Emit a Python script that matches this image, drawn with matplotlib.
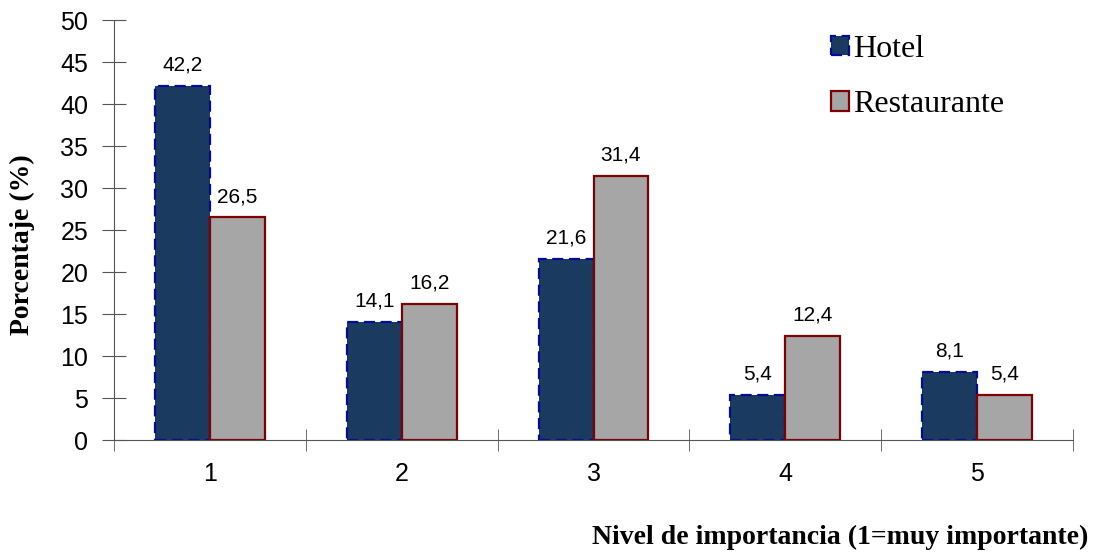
import matplotlib
matplotlib.use("Agg")
import matplotlib.pyplot as plt
import numpy as np

categories = ["1", "2", "3", "4", "5"]
hotel = [42.2, 14.1, 21.6, 5.4, 8.1]
restaurante = [26.5, 16.2, 31.4, 12.4, 5.4]
hotel_labels = ["42,2", "14,1", "21,6", "5,4", "8,1"]
rest_labels = ["26,5", "16,2", "31,4", "12,4", "5,4"]

fig = plt.figure(figsize=(10.95, 5.52), dpi=100)
ax = fig.add_axes([114/1095, 112/552, 959/1095, 420/552])

x = np.arange(len(categories))
w = 0.286
ax.bar(x - w/2, hotel, w, color="#1a3a60", edgecolor="#000c9a",
       linestyle=(0, (5, 2.5)), linewidth=1.6, label="Hotel")
ax.bar(x + w/2, restaurante, w, color="#a6a6a6", edgecolor="#7f0000",
       linewidth=1.6, label="Restaurante")

for i in range(len(categories)):
    ax.annotate(hotel_labels[i], (x[i] - w/2, hotel[i]), xytext=(0, 11),
                textcoords="offset points", ha="center", va="baseline",
                fontsize=15, family="Liberation Sans")
    ax.annotate(rest_labels[i], (x[i] + w/2, restaurante[i]), xytext=(0, 11),
                textcoords="offset points", ha="center", va="baseline",
                fontsize=15, family="Liberation Sans")

ax.set_xlim(-0.5, len(categories) - 0.5)
ax.set_ylim(0, 50)
ax.set_yticks(range(0, 51, 5))
ax.set_xticks(x)
ax.set_xticklabels(categories)
ax.set_xticks(np.arange(-0.5, len(categories), 1.0), minor=True)
for lab in ax.get_xticklabels() + ax.get_yticklabels():
    lab.set_family("Liberation Sans")
    lab.set_fontsize(18)
ax.tick_params(axis="x", which="major", length=0, pad=16)
ax.tick_params(axis="x", which="minor", direction="inout", length=16, color="#555555")
ax.tick_params(axis="y", direction="inout", length=17, color="#555555", pad=10)

for s in ["top", "right"]:
    ax.spines[s].set_visible(False)
ax.spines["left"].set_color("#555555")
ax.spines["bottom"].set_color("#555555")

fig.text(22/1095, 1 - 245/552, "Porcentaje (%)", rotation=90, ha="center", va="center",
         family="Liberation Serif", fontweight="bold", fontsize=20)
fig.text(1088/1095, 1 - 537/552, "Nivel de importancia (1=muy importante)", ha="right", va="center",
         family="Liberation Serif", fontweight="bold", fontsize=20)

leg = fig.legend(loc="upper left", bbox_to_anchor=(831/1095, 1 - 35/552), frameon=False,
                 prop={"family": "Liberation Serif", "size": 23}, borderpad=0, borderaxespad=0,
                 handlelength=0.55, handleheight=0.55, handletextpad=0.15, labelspacing=0.82)

fig.savefig("out.png", dpi=100)
